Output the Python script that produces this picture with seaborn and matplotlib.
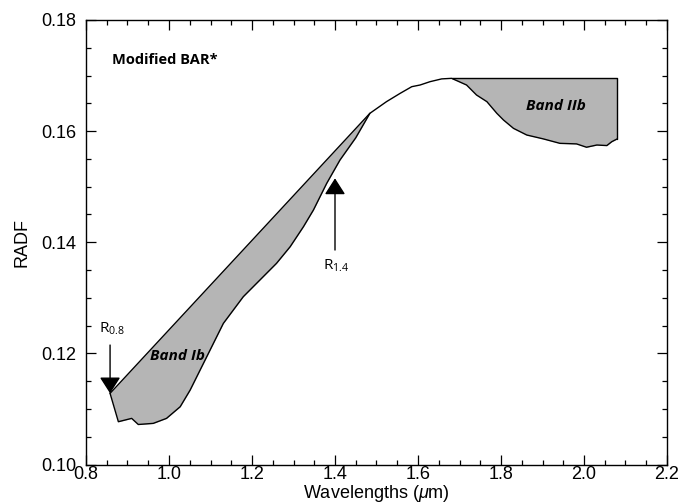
import numpy as np
import pandas as pd
import matplotlib
matplotlib.use("Agg")
import matplotlib.pyplot as plt
import seaborn as sns

# ---- data ----
wavelength = [0.858, 0.878, 0.910, 0.926, 0.962, 0.994, 1.027, 1.051, 1.075, 1.099,
              1.131, 1.179, 1.219, 1.259, 1.292, 1.324, 1.348, 1.364, 1.380, 1.412,
              1.450, 1.484, 1.524, 1.557, 1.585, 1.605, 1.629, 1.657, 1.681, 1.717,
              1.741, 1.766, 1.790, 1.806, 1.830, 1.862, 1.902, 1.942, 1.982, 2.006,
              2.031, 2.055, 2.067, 2.080]
radf = [0.1128, 0.1077, 0.1083, 0.1072, 0.1074, 0.1083, 0.1104, 0.1134, 0.1170, 0.1206,
        0.1254, 0.1302, 0.1332, 0.1362, 0.1392, 0.1428, 0.1458, 0.1482, 0.1506, 0.1548,
        0.1588, 0.1632, 0.1653, 0.1668, 0.1680, 0.1683, 0.1689, 0.1694, 0.1695, 0.1683,
        0.1665, 0.1653, 0.1632, 0.1620, 0.1605, 0.1593, 0.1586, 0.1578, 0.1577, 0.1571,
        0.1575, 0.1574, 0.1581, 0.1586]

band_ib_range = [0.858, 1.484]     # continuum chord endpoints (Band Ib)
band_iib_range = [1.681, 2.080]    # continuum from the peak (Band IIb)

x_ticks = [0.8, 1.0, 1.2, 1.4, 1.6, 1.8, 2.0, 2.2]
y_ticks = [0.10, 0.12, 0.14, 0.16, 0.18]

sns.set_theme(style="ticks")
plt.rcParams['font.family'] = ['Liberation Sans', 'DejaVu Sans']
plt.rcParams['mathtext.fontset'] = 'custom'
plt.rcParams['mathtext.it'] = 'Liberation Sans:italic'
plt.rcParams['mathtext.rm'] = 'Liberation Sans'
plt.rcParams['mathtext.default'] = 'regular'
for k in ['text.color', 'axes.labelcolor', 'xtick.color', 'ytick.color', 'axes.edgecolor']:
    plt.rcParams[k] = 'black'

df = pd.DataFrame({"wl": wavelength, "radf": radf})
wl = np.array(wavelength)
rf = np.array(radf)

fig = plt.figure(figsize=(6.79, 5.03), dpi=100)
ax = fig.add_axes([86/679, 1-464.5/503, (667-86)/679, (464.5-20)/503])

fill_col = "#b5b5b5"

# Band Ib: chord from first point to tangent point
m1 = (wl >= band_ib_range[0]) & (wl <= band_ib_range[1])
y0 = np.interp(band_ib_range[0], wl, rf)
y1 = np.interp(band_ib_range[1], wl, rf)
chord = y0 + (wl[m1] - band_ib_range[0]) * (y1 - y0) / (band_ib_range[1] - band_ib_range[0])
ax.fill_between(wl[m1], rf[m1], chord, color=fill_col, lw=0)
ax.plot(band_ib_range, [y0, y1], color="black", lw=1.0)

# Band IIb: horizontal from the peak
m2 = (wl >= band_iib_range[0]) & (wl <= band_iib_range[1])
peak = np.interp(band_iib_range[0], wl, rf)
ax.fill_between(wl[m2], rf[m2], peak, color=fill_col, lw=0)
yend = np.interp(band_iib_range[1], wl, rf)
ax.plot([band_iib_range[0], band_iib_range[1], band_iib_range[1]],
        [peak, peak, yend], color="black", lw=1.0)

sns.lineplot(data=df, x="wl", y="radf", ax=ax, color="black", lw=1.0, sort=False)

ax.set_xlim(0.8, 2.2)
ax.set_ylim(0.10, 0.18)
ax.set_xticks(x_ticks)
ax.set_yticks(y_ticks)
ax.set_xticklabels([f"{v:.1f}" for v in x_ticks])
ax.set_yticklabels([f"{v:.2f}" for v in y_ticks])
ax.xaxis.set_minor_locator(matplotlib.ticker.MultipleLocator(0.05))
ax.yaxis.set_minor_locator(matplotlib.ticker.MultipleLocator(0.005))
ax.tick_params(which="both", direction="in", top=True, right=True, colors="black",
               labelsize=13, width=0.9)
ax.tick_params(which="major", length=7)
ax.tick_params(which="minor", length=3.6)
ax.tick_params(axis="x", which="major", pad=1)
ax.tick_params(axis="y", which="major", pad=7)
for s in ax.spines.values():
    s.set_color("black")
    s.set_linewidth(1.0)

ax.set_xlabel(r'Wavelengths ($\mathit{\mu}$m)', fontsize=13, labelpad=0)
ax.set_ylabel("RADF", fontsize=13, labelpad=8)

ann_font = ['Open Sans', 'DejaVu Sans']
ax.text(0.862, 0.1728, "Modified BAR*", fontsize=10.5, fontweight="bold",
        family=ann_font, va="center", ha="left")
ax.text(1.02, 0.1195, "Band Ib", fontsize=11, fontweight="bold", style="italic",
        family=ann_font, va="center", ha="center")
ax.text(1.933, 0.1645, "Band IIb", fontsize=11, fontweight="bold", style="italic",
        family=ann_font, va="center", ha="center")

arrow_kw = dict(arrowstyle="-|>,head_length=0.5,head_width=0.32", mutation_scale=20,
                color="black", lw=1.0, shrinkA=0, shrinkB=0)
ax.annotate("", xy=(0.858, 0.1128), xytext=(0.858, 0.1215), arrowprops=arrow_kw)
ax.annotate("", xy=(1.400, 0.1515), xytext=(1.400, 0.1386), arrowprops=arrow_kw)
ax.text(0.862, 0.1245, r"R$_{0.8}$", fontsize=11, family=ann_font, ha="center", va="center")
ax.text(1.403, 0.1358, r"R$_{1.4}$", fontsize=11, family=ann_font, ha="center", va="center")

fig.savefig("out.png", dpi=100)
